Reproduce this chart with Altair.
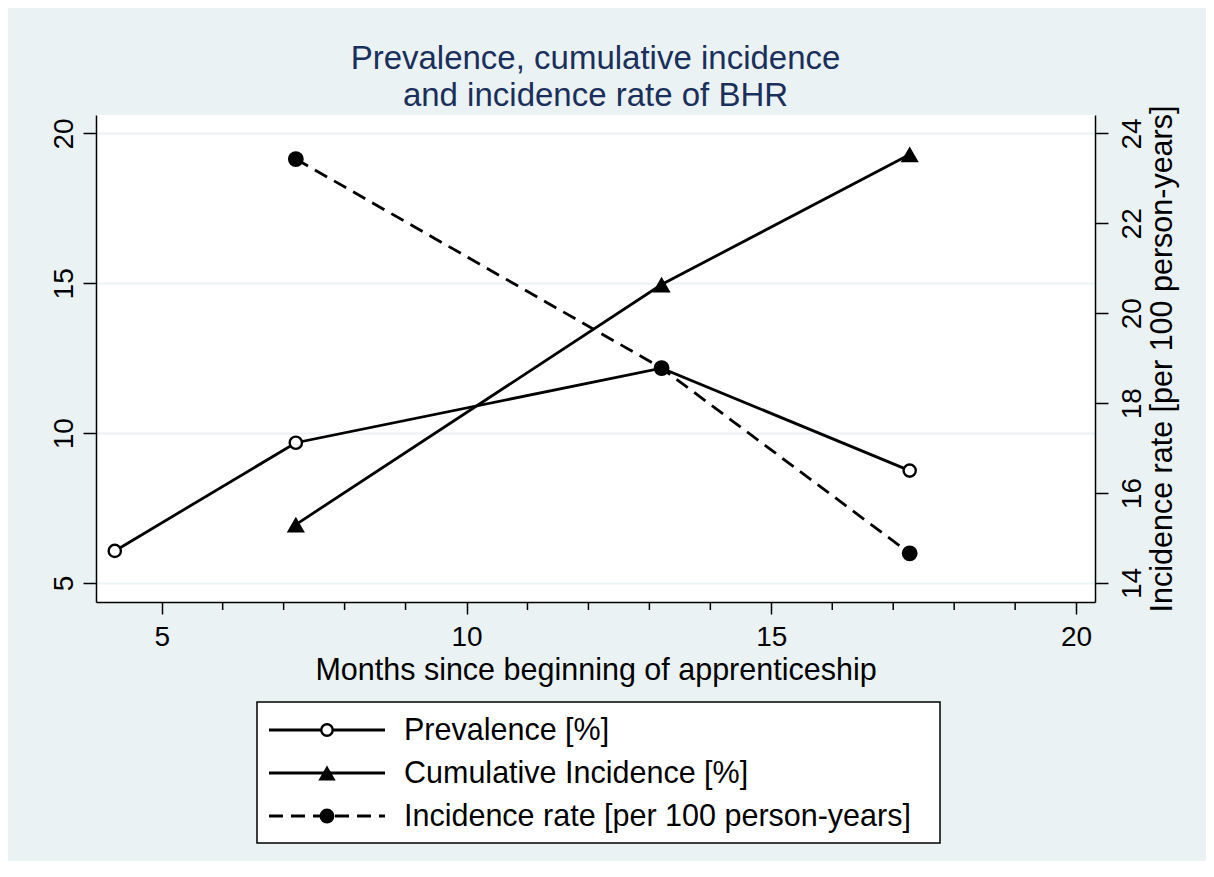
import altair as alt
import pandas as pd

# ---- data ----
months_prev = [4.23, 7.2, 13.2, 17.27]
prevalence = [6.07, 9.68, 12.17, 8.75]
months_inc = [7.2, 13.2, 17.27]
cum_incidence = [6.95, 14.96, 19.30]
incidence_rate = [23.43, 18.78, 14.66]
series_names = ["Prevalence [%]", "Cumulative Incidence [%]",
                "Incidence rate [per 100 person-years]"]
x_major = [5, 10, 15, 20]
x_minor = [6, 7, 8, 9, 11, 12, 13, 14, 16, 17, 18, 19]
y_left_ticks = [5, 10, 15, 20]
y_right_ticks = [14, 16, 18, 20, 22, 24]

prev_df = pd.DataFrame({"month": months_prev, "value": prevalence})
cum_df = pd.DataFrame({"month": months_inc, "value": cum_incidence})
ir_df = pd.DataFrame({"month": months_inc, "value": incidence_rate})
minor_df = pd.DataFrame({"month": x_minor})
legend_df = pd.DataFrame({"series": series_names, "row": [0, 1, 2]})

FONT = "Liberation Sans"
BG = "#EAF2F3"
W, H = 999, 487
LW = 2.8
DASH = [14, 8]

x_scale = alt.Scale(domain=[3.922, 20.31], nice=False, zero=False)
yl_scale = alt.Scale(domain=[4.366, 20.617], nice=False, zero=False)
yr_scale = alt.Scale(domain=[13.577, 24.41], nice=False, zero=False)

x_axis = alt.Axis(values=x_major, title="Months since beginning of apprenticeship",
                  grid=False, tickSize=12, labelPadding=9, titlePadding=4,
                  labelFontSize=28, titleFontSize=30.5, orient="bottom")
x_enc = alt.X("month:Q", scale=x_scale, axis=x_axis)

yl_axis = alt.Axis(values=y_left_ticks, title=None, grid=True, gridColor=BG, gridWidth=2,
                   tickSize=13, labelPadding=11, labelAngle=270, labelAlign="center",
                   labelBaseline="alphabetic", labelFontSize=28, orient="left")
yl_enc = alt.Y("value:Q", scale=yl_scale, axis=yl_axis)

yr_axis = alt.Axis(values=y_right_ticks, title="Incidence rate [per 100 person-years]",
                   grid=False, tickSize=13, labelPadding=10, labelAngle=270,
                   labelAlign="center", labelBaseline="top", labelFontSize=28,
                   titleAngle=270, titleBaseline="top", titlePadding=1,
                   titleFontSize=30.5, orient="right")
yr_enc = alt.Y("value:Q", scale=yr_scale, axis=yr_axis)

# ---- left-axis series ----
prev_line = alt.Chart(prev_df).mark_line(color="black", strokeWidth=LW).encode(x=x_enc, y=yl_enc)
prev_pts = alt.Chart(prev_df).mark_point(shape="circle", size=150, filled=True, fill="white",
                                         stroke="black", strokeWidth=2.4, opacity=1).encode(x=x_enc, y=yl_enc)
cum_line = alt.Chart(cum_df).mark_line(color="black", strokeWidth=LW).encode(x=x_enc, y=yl_enc)
cum_pts = alt.Chart(cum_df).mark_point(shape="triangle-up", size=330, filled=True, fill="black",
                                       opacity=1).encode(x=x_enc, y=yl_enc)

# minor x ticks below the axis line
minor_ticks = alt.Chart(minor_df).mark_rule(color="black", strokeWidth=1.5).encode(
    x=x_enc, y=alt.value(H), y2=alt.value(H + 8))

# ---- legend (drawn below the plot) ----
legend_layers = [
    alt.Chart(legend_df).transform_filter("datum.row == 0").mark_rect(
        fill="white", stroke="black", strokeWidth=1.5).encode(
        x=alt.value(161), x2=alt.value(844), y=alt.value(587), y2=alt.value(728))
]
row_y = [615, 658, 701]
marker_specs = [
    dict(shape="circle", size=130, filled=True, fill="white", stroke="black", strokeWidth=2.4),
    dict(shape="triangle-up", size=300, filled=True, fill="black"),
    dict(shape="circle", size=220, filled=True, fill="black"),
]
for i in range(3):
    sub = alt.Chart(legend_df).transform_filter(f"datum.row == {i}")
    rule_kw = dict(color="black", strokeWidth=LW)
    if i == 2:
        rule_kw["strokeDash"] = DASH
    legend_layers.append(sub.mark_rule(**rule_kw).encode(
        x=alt.value(173), x2=alt.value(289), y=alt.value(row_y[i])))
    legend_layers.append(sub.mark_point(opacity=1, **marker_specs[i]).encode(
        x=alt.value(231), y=alt.value(row_y[i])))
    legend_layers.append(sub.mark_text(align="left", baseline="middle", font=FONT,
                                       fontSize=30.5, color="black").encode(
        x=alt.value(308), y=alt.value(row_y[i] + 1), text="series:N"))

left_group = alt.layer(prev_line, cum_line, prev_pts, cum_pts, minor_ticks, *legend_layers)

# ---- right-axis series ----
ir_line = alt.Chart(ir_df).mark_line(color="black", strokeWidth=LW, strokeDash=DASH).encode(x=x_enc, y=yr_enc)
ir_pts = alt.Chart(ir_df).mark_point(shape="circle", size=250, filled=True, fill="black",
                                     opacity=1).encode(x=x_enc, y=yr_enc)
right_group = alt.layer(ir_line, ir_pts)

chart = alt.layer(left_group, right_group).resolve_scale(y="independent").properties(
    width=W, height=H,
    title=alt.Title(["Prevalence, cumulative incidence", "and incidence rate of BHR"],
                    font=FONT, fontSize=33, fontWeight="normal", color="#1A2F5B",
                    anchor="middle", offset=-8, lineHeight=37),
    autosize=alt.AutoSizeParams(type="none"),
    padding={"left": 88, "top": 107, "right": 111, "bottom": 259},
).configure(
    background=BG, font=FONT
).configure_view(
    fill="white", strokeWidth=0
).configure_axis(
    domainColor="black", domainWidth=1.5, tickColor="black", tickWidth=1.5,
    labelColor="black", titleColor="black", labelFont=FONT, titleFont=FONT,
    titleFontWeight="normal"
)

chart.save("out.html", embed_options={"renderer": "svg", "actions": False})
